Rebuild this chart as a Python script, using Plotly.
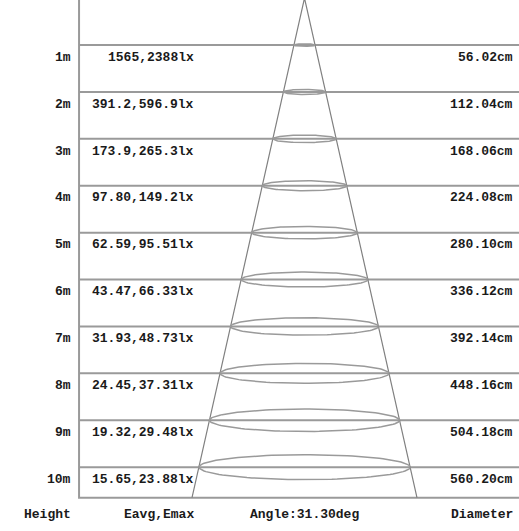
import numpy as np
import plotly.graph_objects as go

# beam data per mounting height
heights = [1, 2, 3, 4, 5, 6, 7, 8, 9, 10]  # m
e_avg = [1565, 391.2, 173.9, 97.80, 62.59, 43.47, 31.93, 24.45, 19.32, 15.65]  # lx
e_max = [2388, 596.9, 265.3, 149.2, 95.51, 66.33, 48.73, 37.31, 29.48, 23.88]  # lx
diameter_cm = [56.02, 112.04, 168.06, 224.08, 280.10, 336.12, 392.14, 448.16, 504.18, 560.20]
beam_angle = 31.30  # deg

col_titles = ["Height", "Eavg,Emax", "Angle:%.2fdeg" % beam_angle, "Diameter"]


def fmt4(v):
    s = format(v, "#.4g")
    return s.rstrip(".")


half = np.tan(np.radians(beam_angle / 2))
h_bottom = heights[-1] + 0.65
line_col = "#9a9a9a"
cone_col = "#808080"
font = dict(family="Liberation Mono, Courier New, monospace", size=13, color="#1a1a1a", weight="bold")

x_left = -5.98
x_right = 7.0
x_val = -2.9
x_height = -6.17
x_diam = 5.56

fig = go.Figure()

# frame: left edge, top, bottom
fig.add_trace(go.Scatter(x=[x_right, x_left, x_left, x_right], y=[0.02, 0.02, h_bottom, h_bottom],
                         mode="lines", line=dict(color=line_col, width=2), hoverinfo="skip"))

# horizontal rows
for h in heights:
    fig.add_trace(go.Scatter(x=[x_left, x_right], y=[h, h], mode="lines",
                             line=dict(color=line_col, width=2), hoverinfo="skip"))

# cone
fig.add_trace(go.Scatter(x=[-half * h_bottom, 0, half * h_bottom], y=[h_bottom, 0, h_bottom],
                         mode="lines", line=dict(color=cone_col, width=1.2), hoverinfo="skip"))

# beam ellipses
t = np.linspace(0, 2 * np.pi, 121)
for h, d in zip(heights, diameter_cm):
    rx = d / 200.0
    ry = rx * 0.118 * (37.7 / 46.9)
    fig.add_trace(go.Scatter(x=rx * np.cos(t), y=h + ry * np.sin(t), mode="lines",
                             line=dict(color=line_col, width=1.5), hoverinfo="skip"))

# row labels
for h, ea, em, d in zip(heights, e_avg, e_max, diameter_cm):
    yl = h + 0.26
    fig.add_annotation(x=x_height, y=yl, text="%dm" % h, xanchor="right")
    fig.add_annotation(x=x_val, y=yl, text="%s,%slx" % (fmt4(ea), fmt4(em)), xanchor="right")
    fig.add_annotation(x=x_diam, y=yl, text="%.2fcm" % d, xanchor="right")

y_title = 11.0
fig.add_annotation(x=x_height, y=y_title, text=col_titles[0], xanchor="right")
fig.add_annotation(x=x_val, y=y_title, text=col_titles[1], xanchor="right")
fig.add_annotation(x=0, y=y_title, text=col_titles[2], xanchor="center")
fig.add_annotation(x=x_diam, y=y_title, text=col_titles[3], xanchor="right")

fig.update_annotations(showarrow=False, yanchor="middle", font=font, borderpad=0)

px_m_x = 37.7
px_m_y = 46.9
fig.update_layout(
    width=519, height=531,
    margin=dict(l=0, r=0, t=0, b=0),
    paper_bgcolor="white", plot_bgcolor="white",
    showlegend=False,
    xaxis=dict(range=[-304.5 / px_m_x, (519 - 304.5) / px_m_x], visible=False, fixedrange=True),
    yaxis=dict(range=[(531 + 1.85) / px_m_y, 1.85 / px_m_y - 0.0], visible=False, fixedrange=True),
)

fig.write_html("out.html", config={"displayModeBar": False},
               post_script="document.body.style.margin='0';document.body.style.overflow='hidden';")
